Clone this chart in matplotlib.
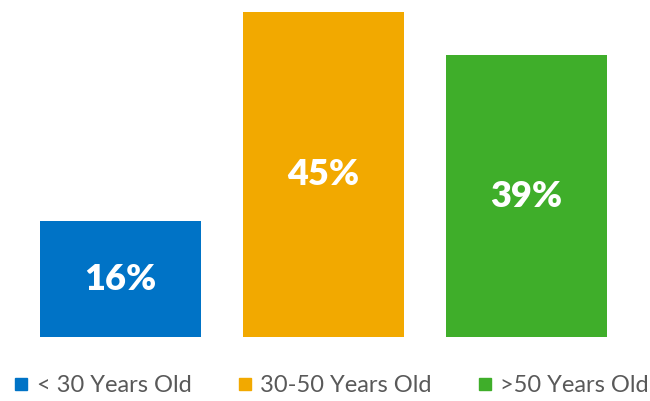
import matplotlib
matplotlib.use("Agg")
import matplotlib.pyplot as plt
from matplotlib.lines import Line2D

GROUPS = ["< 30 Years Old", "30-50 Years Old", ">50 Years Old"]
SHARES = [16, 45, 39]
COLORS = ["#0073C6", "#F2A900", "#3FAE2A"]

plt.rcParams['font.family'] = ['Lato', 'DejaVu Sans']

fig = plt.figure(figsize=(6.5, 4.01), dpi=100)
# axes spans the full width; baseline sits 64 px above the bottom edge
ax = fig.add_axes([0, 64 / 401, 1, 325 / 401])

x = list(range(len(SHARES)))
bars = ax.bar(x, SHARES, width=0.793, color=COLORS)
for b, v in zip(bars, SHARES):
    ax.text(b.get_x() + b.get_width() / 2, v / 2, f"{v}%",
            ha='center', va='center', color='white',
            fontsize=26, fontweight='heavy')

ax.set_xlim(-0.594, 2.608)
ax.set_ylim(0, 45)
ax.axis('off')

handles = [Line2D([], [], marker='s', linestyle='none', markersize=8,
                  color=c) for c in COLORS]
fig.legend(handles, GROUPS, loc='center', bbox_to_anchor=(0.51, 1 - 386 / 401),
           ncol=3, frameon=False, fontsize=17, labelcolor='#595959',
           handlelength=0.6, handletextpad=0.35, columnspacing=1.95,
           borderpad=0, borderaxespad=0)

fig.savefig('out.png', dpi=100)
